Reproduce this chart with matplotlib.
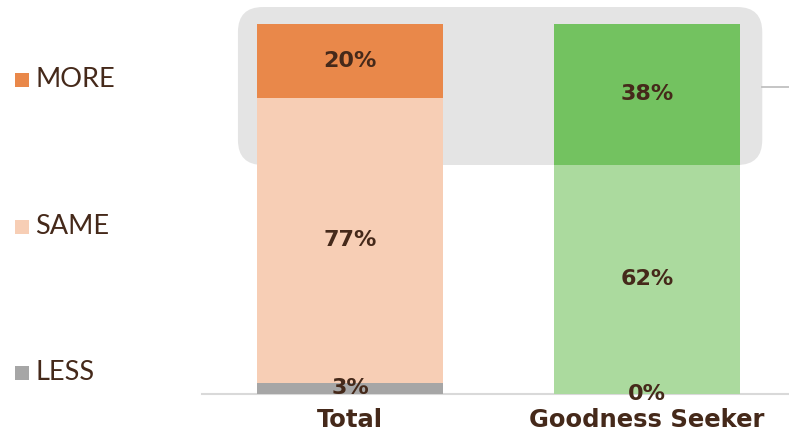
import matplotlib
matplotlib.use("Agg")
import matplotlib.pyplot as plt
from matplotlib.patches import FancyBboxPatch, Rectangle

categories = ["Total", "Goodness Seeker"]
less = [3, 0]
same = [77, 62]
more = [20, 38]

legend_labels = ["MORE", "SAME", "LESS"]

colors_less = ["#A6A6A6", "#A6A6A6"]
colors_same = ["#F7CEB5", "#ABDA9E"]
colors_more = ["#E9884A", "#73C260"]

text_color = "#45291A"

plt.rcParams["font.family"] = ["DejaVu Sans"]

fig = plt.figure(figsize=(7.89, 4.36), dpi=100)
ax = fig.add_axes([202 / 789, 42 / 436, 587 / 789, 394 / 436])

x = list(range(len(categories)))
width = 0.626

# highlight panel behind the upper segments
panel = FancyBboxPatch((-0.377, 61.9), 1.765, 42.7,
                       boxstyle="round,pad=0,rounding_size=0.084",
                       mutation_aspect=80.3,
                       facecolor="#E4E4E4", edgecolor="none", zorder=0)
ax.add_patch(panel)

ax.bar(x, less, width, color=colors_less, zorder=2)
ax.bar(x, same, width, bottom=less, color=colors_same, zorder=2)
bottom_more = [l + s for l, s in zip(less, same)]
ax.bar(x, more, width, bottom=bottom_more, color=colors_more, zorder=2)

label_kw = dict(ha="center", va="center", color=text_color,
                fontsize=16, fontweight="bold", zorder=3)
for i in x:
    ax.text(i, less[i] / 2, f"{less[i]}%", **label_kw)
    ax.text(i, less[i] + same[i] / 2, f"{same[i]}%", **label_kw)
    ax.text(i, bottom_more[i] + more[i] / 2, f"{more[i]}%", **label_kw)

# short connector line on the right edge
ax.plot([1.388, 1.478], [83, 83], color="#C0C0C0", lw=1.3, zorder=1,
        clip_on=False)

ax.set_xlim(-0.498, 1.478)
ax.set_ylim(0, 106.5)
ax.set_xticks(x)
ax.set_xticklabels(categories, fontsize=17.5, fontweight="bold", color=text_color)
ax.tick_params(axis="x", length=0, pad=10)
ax.set_yticks([])
for s in ["top", "right", "left"]:
    ax.spines[s].set_visible(False)
ax.spines["bottom"].set_color("#D9D9D9")
ax.spines["bottom"].set_linewidth(1.5)
ax.spines["bottom"].set_zorder(1)

# legend on the left, one entry per series level
W, H = 789, 436
legend_colors = [colors_more[0], colors_same[0], colors_less[0]]
legend_baseline = [87, 234, 380]
for lab, col, yy in zip(legend_labels, legend_colors, legend_baseline):
    fig.patches.append(Rectangle((15 / W, 1 - yy / H), 14 / W, 14 / H,
                                 transform=fig.transFigure, facecolor=col,
                                 edgecolor="none"))
    fig.text(35 / W, 1 - yy / H, lab, ha="left", va="baseline",
             fontsize=19.5, color=text_color, family=["Lato", "DejaVu Sans"])

fig.savefig("out.png", dpi=100)
